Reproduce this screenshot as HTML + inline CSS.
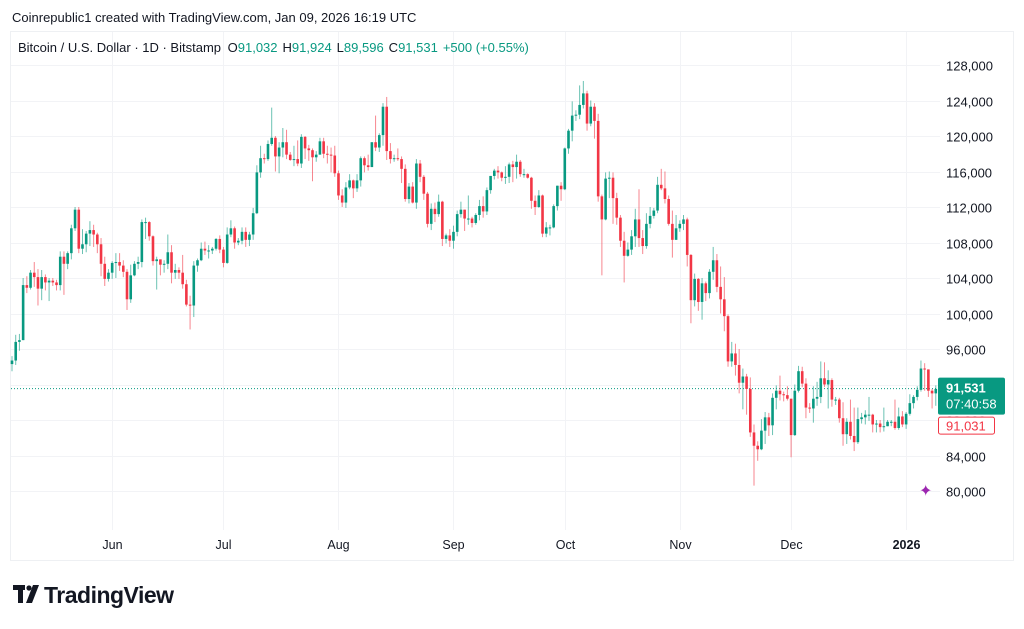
<!DOCTYPE html>
<html><head><meta charset="utf-8"><style>
html,body{margin:0;padding:0;background:#fff;width:1024px;height:629px;overflow:hidden;font-family:"Liberation Sans",sans-serif;}
svg{position:absolute;left:0;top:0}
</style></head><body>
<svg id="c" width="1024" height="629">
<rect x="10.5" y="31.5" width="1003" height="529" fill="#fff" stroke="#eef0f3"/>
<text x="12" y="22" font-size="13" fill="#131722">Coinrepublic1 created with TradingView.com, Jan 09, 2026 16:19 UTC</text>
<g id="grid"></g>
<g id="candles"></g>
<g id="axis"></g>
<g id="xaxis"></g>
<text x="18" y="52" font-size="13" fill="#131722">Bitcoin / U.S. Dollar · 1D · Bitstamp <tspan dx="3">O</tspan><tspan fill="#089981">91,032</tspan><tspan dx="5">H</tspan><tspan fill="#089981">91,924</tspan><tspan dx="5">L</tspan><tspan fill="#089981">89,596</tspan><tspan dx="5">C</tspan><tspan fill="#089981">91,531</tspan><tspan dx="5" fill="#089981">+500 (+0.55%)</tspan></text>
<g>
<rect x="13" y="585" width="12" height="5" fill="#131722"/><rect x="18" y="585" width="5" height="18" fill="#131722"/>
<circle cx="29" cy="588" r="2.6" fill="#131722"/><polygon points="33,585 39,585 32,603 26,603" fill="#131722"/>
<text x="44" y="603" font-size="23" font-weight="bold" fill="#131722" letter-spacing="-0.5">TradingView</text>
</g>
</svg>
<script>
const closes=[94.7,96.8,97.0,103.2,102.9,104.6,104.1,102.8,104.1,103.5,103.7,103.5,103.2,106.4,105.6,106.8,109.6,111.7,107.3,107.8,109.0,109.4,108.9,107.8,105.6,103.9,104.6,
105.7,105.8,105.4,104.7,101.6,104.3,105.6,105.8,110.3,110.3,108.7,105.9,106.1,105.5,105.6,106.9,104.6,104.9,104.6,103.3,101.0,100.9,105.4,106.0,107.3,107.1,107.1,107.3,108.4,107.2,
105.7,108.9,109.6,108.0,108.2,109.2,108.3,108.9,111.3,115.9,117.5,117.4,119.1,119.8,117.7,118.7,119.3,117.9,117.3,117.4,116.9,119.9,118.6,118.4,117.6,117.9,119.4,118.0,117.9,117.8,115.8,
113.3,112.5,114.2,115.0,114.1,115.0,117.5,116.7,116.5,119.3,118.7,120.1,123.3,118.3,117.4,117.5,117.4,116.3,112.9,114.3,112.5,116.9,115.4,113.5,110.1,111.8,111.2,112.6,108.4,108.8,108.2,
109.2,111.2,111.7,110.7,110.7,110.2,111.1,112.1,111.5,113.9,115.5,116.1,115.9,115.3,115.4,116.8,116.5,117.1,115.7,115.7,115.3,112.7,112.0,113.3,109.0,109.7,109.7,112.1,114.4,114.0,
118.6,120.6,122.3,122.4,123.5,124.8,121.4,123.3,121.7,113.2,110.6,115.2,115.3,113.0,110.8,108.2,106.5,107.2,108.7,110.6,108.5,107.6,110.1,111.0,111.6,114.5,114.1,112.9,110.1,108.3,109.6,
110.1,110.6,106.6,101.5,103.9,101.3,103.4,102.3,104.7,106.0,103.0,101.6,99.7,94.6,95.5,94.2,92.2,92.9,91.5,86.6,85.1,84.7,86.8,88.3,87.4,90.5,91.3,90.9,90.8,90.4,
86.3,91.3,93.5,92.1,89.4,89.3,90.4,90.6,92.7,92.0,92.5,90.3,90.3,88.2,86.4,87.8,86.2,85.5,88.1,88.3,88.6,88.6,87.5,87.6,87.2,87.3,87.8,87.8,87.1,88.4,87.5,
88.7,89.9,90.6,91.4,93.8,93.7,91.3,91.0,91.5];
const highs=[95.2,97.6,97.7,104.0,104.2,104.9,105.8,105.0,104.9,104.4,104.0,104.0,103.8,107.0,107.0,107.0,110.0,112.0,112.0,109.5,109.3,110.4,110.0,109.1,108.5,106.4,105.0,
105.9,106.8,106.8,106.0,105.0,105.5,105.9,106.4,110.6,110.8,110.4,108.8,106.4,106.0,106.0,108.9,107.7,105.6,105.2,106.6,103.8,102.0,105.9,106.2,108.0,108.1,107.7,107.5,108.5,108.8,
107.5,109.7,110.5,109.8,108.5,109.7,109.7,109.2,111.9,116.7,118.9,118.0,119.5,123.2,120.0,119.3,120.9,120.7,118.2,118.9,119.5,120.2,120.0,119.0,118.6,118.3,119.8,119.8,118.9,118.7,118.9,
116.1,114.0,114.8,115.7,115.1,115.7,117.7,117.7,117.9,119.3,122.3,120.3,123.7,124.4,119.2,117.9,118.6,117.7,116.8,114.7,114.8,117.4,117.3,115.6,113.7,112.4,112.5,113.4,112.7,109.0,109.5,
109.9,111.6,112.6,111.7,113.3,110.9,111.3,112.8,113.2,114.2,115.5,116.3,116.6,116.0,116.6,117.0,117.2,117.9,117.3,116.3,115.8,115.4,113.3,113.9,113.4,110.3,110.0,112.3,114.4,114.8,
118.7,120.8,123.9,122.9,125.7,126.2,125.1,124.0,123.7,122.5,113.4,115.9,116.0,115.9,113.6,111.1,109.2,108.0,109.4,111.8,114.0,109.4,111.3,112.0,111.9,115.4,116.3,116.0,113.3,111.6,111.1,
110.5,111.1,110.8,106.7,104.5,104.0,104.0,103.6,105.0,107.5,106.7,105.3,104.1,99.9,96.8,96.6,96.0,93.8,93.2,92.8,87.5,85.6,88.1,88.9,88.8,91.0,91.9,93.0,91.2,91.8,
90.4,92.0,94.1,94.0,92.7,89.9,91.8,92.3,94.6,94.5,93.6,92.7,90.6,90.5,90.0,88.2,90.3,89.4,89.4,88.8,89.1,90.6,88.7,88.0,88.0,89.4,88.0,88.0,90.3,89.4,89.0,
88.9,90.9,90.8,91.8,94.7,94.4,93.7,91.5,91.9];
const lows=[93.5,94.2,95.8,97.0,102.3,102.7,103.0,100.9,101.5,102.6,101.4,103.1,102.6,102.6,102.1,105.0,106.1,109.3,106.8,106.7,106.9,107.6,107.5,106.8,104.2,103.1,103.6,
103.9,104.0,104.8,104.1,100.4,101.2,104.2,105.0,105.2,108.4,108.2,105.4,102.7,104.3,104.6,105.0,103.4,103.9,103.9,102.8,100.8,98.2,99.6,104.7,105.9,106.6,106.2,106.7,107.1,106.8,
105.2,105.6,108.6,107.3,107.7,107.8,107.5,107.6,108.3,111.2,115.3,116.9,117.2,118.9,116.0,115.8,117.6,117.4,117.2,116.6,116.6,116.4,117.4,117.2,114.9,117.1,117.9,117.5,116.9,115.9,115.4,
112.8,112.0,111.9,114.0,113.0,113.7,114.3,115.9,116.1,116.5,118.3,118.2,118.9,117.3,116.9,117.1,117.2,114.7,112.6,112.4,112.4,111.8,114.8,112.8,109.7,109.4,110.3,110.9,107.6,107.9,107.5,
107.3,108.7,110.8,109.3,110.0,109.7,110.0,110.5,110.8,111.1,113.5,115.1,115.2,114.9,114.6,114.7,114.8,115.2,115.4,115.3,115.2,111.8,111.1,111.9,108.6,108.6,108.8,109.6,111.6,112.7,
113.9,118.0,119.4,121.7,121.9,123.1,120.6,121.1,119.7,112.6,104.3,110.5,113.0,110.1,110.0,107.5,103.5,106.4,106.6,107.5,107.5,106.7,107.3,109.6,110.7,111.3,113.9,112.4,109.9,106.3,108.3,
109.2,109.4,105.3,98.9,100.8,100.3,99.3,101.4,101.7,103.8,102.4,100.0,98.0,94.0,94.0,93.0,91.0,89.2,88.6,86.1,80.6,83.4,84.6,85.3,86.2,86.3,89.2,90.2,90.1,90.2,
83.8,86.2,91.1,91.7,88.2,88.8,87.7,89.6,89.9,91.7,89.3,89.5,89.7,87.7,85.1,85.3,85.8,84.5,85.3,87.6,87.5,87.9,86.6,86.6,86.6,86.7,87.3,87.3,86.9,86.9,87.2,
87.0,88.5,89.3,90.2,91.2,91.3,90.6,89.3,89.6];
const firstOpen=94.3;
const priceTicks=[80,84,88,92,96,100,104,108,112,116,120,124,128];
const monthLabels=["Jun","Jul","Aug","Sep","Oct","Nov","Dec","2026"];
const monthIndex=[27,57,88,119,149,180,210,241];
const lastPrice=91.531, prevClose=91.031;

const NS="http://www.w3.org/2000/svg";
const X0=12, DX=3.71;
const xs=i=>X0+i*DX;
const ys=p=>65+(128-p)*8.875;
function mk(tag,attrs,parent){const e=document.createElementNS(NS,tag);for(const k in attrs)e.setAttribute(k,attrs[k]);parent.appendChild(e);return e;}
const grid=document.getElementById('grid'),cg=document.getElementById('candles'),ax=document.getElementById('axis'),xa=document.getElementById('xaxis');
priceTicks.forEach(t=>{
  const y=Math.round(ys(t))+0.5;
  const l=mk('line',{x1:11,x2:940,y1:y,y2:y,stroke:'#f2f3f6','stroke-width':1},grid);
  
  
  const tx=mk('text',{x:946,y:y+5,'font-size':13,fill:'#131722'},ax);
  tx.textContent=(t*1000).toLocaleString('en-US');
  
  
});
monthLabels.forEach((m,k)=>{
  const x=Math.round(xs(monthIndex[k]))+0.5;
  const l=mk('line',{x1:x,x2:x,y1:32,y2:530,stroke:'#f2f3f6','stroke-width':1},grid);
  
  
  const tx=mk('text',{x:x,y:549,'font-size':12.5,fill:'#131722','text-anchor':'middle','font-weight':m==='2026'?'bold':'normal'},xa);
  tx.textContent=m;
  
  
});
closes.forEach((c,i)=>{
  const o=i===0?firstOpen:closes[i-1];
  const col=c>=o?'#089981':'#f23645';
  const x=xs(i);
  const g=mk('g',{},cg);
  
  
  mk('line',{x1:x,x2:x,y1:ys(highs[i]),y2:ys(lows[i]),stroke:col,'stroke-width':1,'stroke-opacity':0.6},g);
  const top=ys(Math.max(o,c)),bot=ys(Math.min(o,c));
  mk('rect',{x:x-1.3,y:top,width:2.6,height:Math.max(1,bot-top),fill:col},g);
});
const ly=ys(lastPrice);
const pl=mk('line',{x1:11,x2:938,y1:ly,y2:ly,stroke:'#089981','stroke-width':1,'stroke-dasharray':'1 2'},grid);


const lb=mk('g',{},ax);


mk('rect',{x:938,y:ly-11,width:67,height:37,rx:2,fill:'#089981'},lb);
const t1=mk('text',{x:946,y:ly+4,'font-size':13,'font-weight':'bold',fill:'#fff'},lb);t1.textContent='91,531';
const t2=mk('text',{x:946,y:ly+20,'font-size':13,fill:'#fff'},lb);t2.textContent='07:40:58';
const pb=mk('g',{},ax);


mk('rect',{x:938.5,y:ly+28.5,width:56,height:17,rx:2,fill:'#fff',stroke:'#f23645'},pb);
const t3=mk('text',{x:946,y:ly+42,'font-size':13,fill:'#f23645'},pb);t3.textContent='91,031';
const sp=mk('text',{x:919,y:496,'font-size':16,fill:'#9c27b0'},ax);sp.textContent='✦';


</script>
</body></html>
